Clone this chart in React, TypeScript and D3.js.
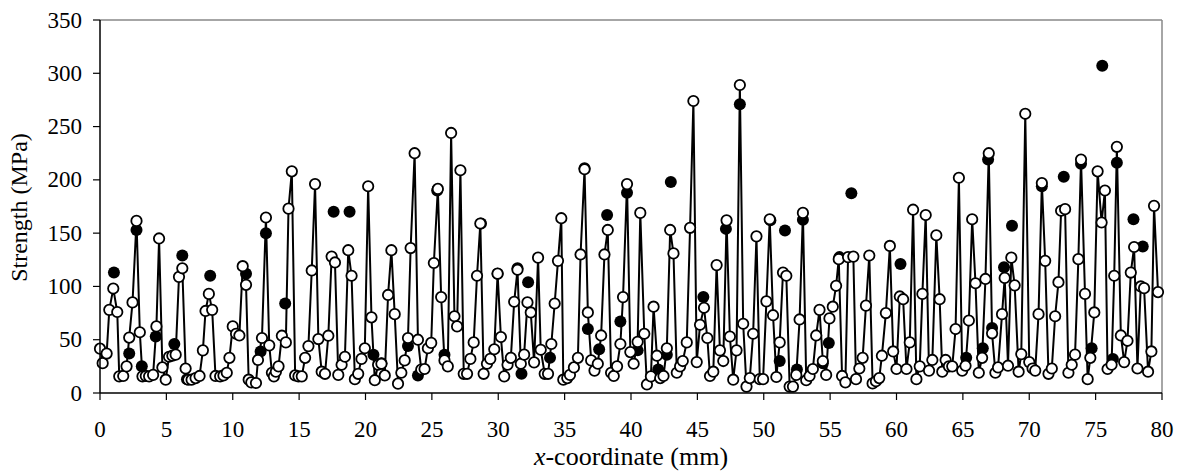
import React from "react";
import * as d3 from "d3";

const openX = [0,0.2,0.5,0.7,1.0,1.3,1.45,1.75,2.0,2.2,2.45,2.75,3.0,3.2,3.45,3.7,4.0,4.25,4.45,4.7,4.95,5.2,5.45,5.7,5.95,6.2,6.45,6.65,6.9,7.2,7.5,7.75,7.95,8.2,8.45,8.7,9.05,9.3,9.55,9.75,10.0,10.25,10.5,10.75,11.0,11.2,11.4,11.75,11.9,12.2,12.5,12.75,12.95,13.1,13.25,13.45,13.7,14.0,14.2,14.45,14.7,14.95,15.2,15.45,15.7,15.95,16.2,16.45,16.7,16.95,17.2,17.45,17.7,17.95,18.2,18.45,18.7,18.95,19.2,19.45,19.7,19.95,20.2,20.45,20.7,20.95,21.2,21.45,21.7,21.95,22.2,22.45,22.7,22.95,23.2,23.4,23.7,23.95,24.2,24.45,24.7,24.95,25.15,25.45,25.7,25.95,26.2,26.45,26.7,26.9,27.15,27.4,27.65,27.9,28.15,28.4,28.65,28.9,29.15,29.4,29.7,29.95,30.2,30.45,30.7,30.95,31.2,31.45,31.7,31.95,32.2,32.45,32.7,33.0,33.2,33.5,33.75,34.0,34.25,34.5,34.75,34.9,35.2,35.4,35.7,36.0,36.2,36.5,36.75,37.0,37.25,37.5,37.75,38.0,38.25,38.5,38.7,38.95,39.2,39.4,39.7,39.95,40.2,40.5,40.7,41.0,41.2,41.5,41.7,41.95,42.2,42.45,42.7,42.95,43.2,43.45,43.7,43.9,44.2,44.45,44.7,44.95,45.2,45.5,45.75,45.95,46.2,46.45,46.7,46.95,47.2,47.45,47.7,47.95,48.2,48.45,48.7,48.95,49.2,49.45,49.7,49.95,50.2,50.45,50.7,50.95,51.2,51.45,51.7,51.95,52.2,52.45,52.7,52.95,53.2,53.45,53.7,53.95,54.2,54.45,54.7,54.95,55.2,55.45,55.65,55.9,56.15,56.35,56.75,56.95,57.2,57.45,57.7,57.95,58.2,58.45,58.7,58.9,59.2,59.5,59.75,60.0,60.25,60.5,60.75,61.0,61.25,61.5,61.75,61.95,62.2,62.45,62.7,63.0,63.25,63.45,63.7,63.95,64.2,64.45,64.7,64.95,65.2,65.45,65.7,65.95,66.2,66.45,66.7,66.95,67.2,67.45,67.65,67.95,68.15,68.4,68.65,68.9,69.2,69.4,69.7,70.0,70.25,70.45,70.7,70.95,71.2,71.45,71.7,71.95,72.2,72.4,72.7,72.95,73.2,73.45,73.7,73.9,74.2,74.4,74.6,74.9,75.15,75.45,75.7,75.9,76.2,76.4,76.6,76.9,77.15,77.4,77.65,77.9,78.15,78.4,78.65,78.95,79.2,79.4,79.7];
const openY = [41.6,28,37,78,98,76,15.6,16,25,52,85,161.5,57,15.6,16,15.6,17,62.5,145,24,12.5,34,35,36,109,117,23,12.5,12.5,14,16,40,77,93,78,16,15.6,16.5,19,33,62.5,55.6,54,119,101.5,12.5,10,9.4,31,51.6,164.7,44.7,19,15.6,20,25,53.75,47.5,173,208,16.5,15.6,15.6,33,44,115,196,50.6,20,18,53.75,128,122.5,17,26.5,34,134,110,13,18,32,42,194,71,12,26.5,27.5,16.5,92,134,74,8.75,19,30.6,51.6,136,225,50,22,22.5,42,47,122,191.5,90,30.6,25,244,72,62.5,209,18,18,32,47.5,110,159,18,27.5,32,41,112,52.5,15.6,26.5,33,85.6,115.6,27.5,36,85,75.6,28.75,127,40.6,18,18,46,84,124,164,12.5,14,17,24,33,130,210,75.6,30.6,21,27.5,54,130,153,19,16,25,46,90,196,38.4,27.5,48,169,55.6,8,15.6,81,35,14,16,42,153,131,19,25,30,47.5,155,274,29,64,80,51.6,16,20,120,40,30,162,53,12.5,40,289,65,6,14,55.6,147,13,13,86,163,73,15,47.5,113,110,6,6,17,69,169,12,16,22.5,54,78,30,17,70,81,100.6,125.6,16,10,127.5,128,13,23,33,82,129,9,11,14,35,75,138,39,22.5,90.6,88,22.5,47.5,172,13,25,93,167,21,31,148,88,20,31,25,25,60,202,21,25.6,68,163,103,19,33,107,225,56,19,24,74,108,25.6,127,101,20,36.5,262,29,23,21,74,197,124,18,23,72,104,171,172.5,19,26.5,36,125.6,219,93,13,33,75.6,208,160,190,22.5,26.5,110,231,54,29,49,113,137,23,100,98.4,20,39,175.6,94.7];

const filledX = [1.05,2.2,2.75,3.15,4.2,5.6,6.2,6.55,8.3,11.0,12.1,12.5,13.95,17.6,18.8,20.6,21.2,23.2,23.95,25.4,25.95,28.7,29.95,31.45,31.75,32.25,33.9,36.5,36.75,37.6,38.2,39.2,39.7,40.5,42.05,42.7,43.0,45.45,47.15,48.2,50.5,51.2,51.6,52.5,52.95,54.45,54.9,55.7,56.6,60.3,65.25,66.5,66.9,67.2,68.1,68.7,70.95,72.6,73.9,74.7,75.5,76.3,76.6,77.85,78.55];
const filledY = [113,37,153,25,53,46,129,13,110,112,39,150,84,170,170,36,28,44,16.5,190,36,159,112,117,18,104,33,211,60,41,167,67,188,40,22,36,198,90,154,271,162,30,152.5,22,162.5,28,47,127.5,187.5,121,33,42,219,61,118,157,194,203,215,42,307,32,216,163,137.5];

const xTicks = [0,5,10,15,20,25,30,35,40,45,50,55,60,65,70,75,80];
const yTicks = [0,50,100,150,200,250,300,350];

const W = 1178, H = 472;
const left = 100, right = 1162, top = 20, bottom = 393;
const FONT = "'Liberation Serif', 'Times New Roman', serif";

export default function App() {
  const x = d3.scaleLinear().domain([0, 80]).range([left, right]);
  const y = d3.scaleLinear().domain([0, 350]).range([bottom, top]);
  const openPts = openX.map((v, i) => [v, openY[i]] as [number, number]);
  const filledPts = filledX.map((v, i) => [v, filledY[i]] as [number, number]);
  const line = d3.line<[number, number]>().x(d => x(d[0])).y(d => y(d[1]));
  const r = 5.2;
  return (
    <svg width={W} height={H} style={{ position: "absolute", left: 0, top: 0, background: "#fff", fontFamily: FONT }}>
      <rect x={0} y={0} width={W} height={H} fill="#fff" />
      <line x1={left} x2={right} y1={top} y2={top} stroke="#888" strokeWidth={1.5} />
      <line x1={right} x2={right} y1={top} y2={bottom} stroke="#888" strokeWidth={1.5} />
      {filledPts.map((d, i) => (
        <circle key={"f" + i} cx={x(d[0])} cy={y(d[1])} r={r + 0.8} fill="#000" />
      ))}
      <path d={line(openPts) || ""} fill="none" stroke="#000" strokeWidth={2} strokeLinejoin="round" />
      {openPts.map((d, i) => (
        <circle key={"o" + i} cx={x(d[0])} cy={y(d[1])} r={r} fill="#fff" stroke="#000" strokeWidth={1.8} />
      ))}
      <line x1={left} x2={left} y1={top} y2={bottom} stroke="#000" strokeWidth={1.5} />
      <line x1={left} x2={right} y1={bottom} y2={bottom} stroke="#000" strokeWidth={1.5} />
      {yTicks.map(t => (
        <g key={"y" + t}>
          <line x1={left - 7} x2={left} y1={y(t)} y2={y(t)} stroke="#000" strokeWidth={1.2} />
          <text x={82} y={y(t) + 7.5} textAnchor="end" fontSize={23} fontFamily={FONT}>{t}</text>
        </g>
      ))}
      {xTicks.map(t => (
        <g key={"x" + t}>
          <line x1={x(t)} x2={x(t)} y1={bottom} y2={bottom + 7} stroke="#000" strokeWidth={1.2} />
          <text x={x(t)} y={437} textAnchor="middle" fontSize={23} fontFamily={FONT}>{t}</text>
        </g>
      ))}
      <text x={(left + right) / 2} y={465} textAnchor="middle" fontSize={26} fontFamily={FONT}>
        <tspan fontStyle="italic">x</tspan>-coordinate (mm)
      </text>
      <text transform={`translate(27,${(top + bottom) / 2 + 1}) rotate(-90)`} textAnchor="middle" fontSize={24} fontFamily={FONT}>Strength (MPa)</text>
    </svg>
  );
}
